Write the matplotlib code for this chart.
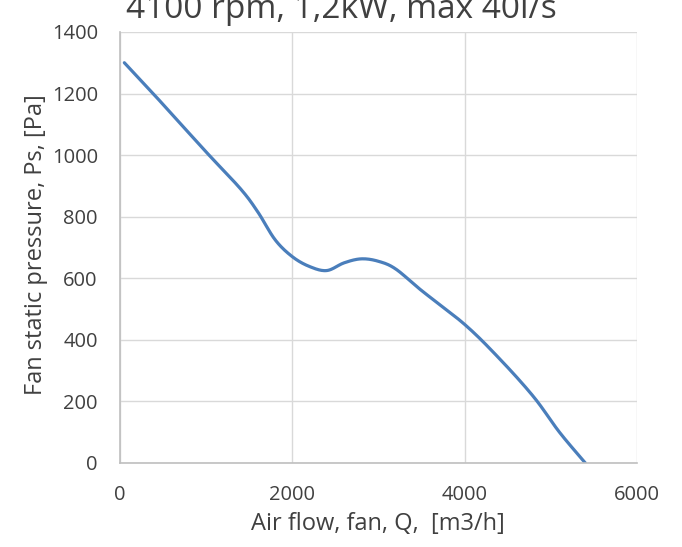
import matplotlib
matplotlib.use("Agg")
import matplotlib.pyplot as plt
import numpy as np

flow = [50, 400, 1000, 1400, 1600, 1800, 2000, 2200, 2400, 2600, 2800, 3000, 3200, 3500, 4000, 4400, 4800, 5100, 5400]
pressure = [1300, 1195, 1010, 890, 815, 725, 670, 638, 625, 650, 663, 655, 630, 560, 450, 340, 215, 100, 0]

x_ticks = [0, 2000, 4000, 6000]
y_ticks = [0, 200, 400, 600, 800, 1000, 1200, 1400]
title = "4100 rpm, 1,2kW, max 40l/s"
xlabel = "Air flow, fan, Q,  [m3/h]"
ylabel = "Fan static pressure, Ps, [Pa]"

plt.rcParams['font.family'] = ['Open Sans', 'DejaVu Sans']

fig = plt.figure(figsize=(6.82, 5.47), dpi=100)
ax = fig.add_axes([0.176, 0.1536, 0.758, 0.788])

# Smooth curve via Catmull-Rom through read points
def catmull(xs, ys, n=20):
    xs = np.asarray(xs, float); ys = np.asarray(ys, float)
    P = np.column_stack([xs, ys])
    P = np.vstack([2*P[0]-P[1], P, 2*P[-1]-P[-2]])
    out = []
    for i in range(1, len(P)-2):
        p0, p1, p2, p3 = P[i-1], P[i], P[i+1], P[i+2]
        t = np.linspace(0, 1, n, endpoint=False)[:, None]
        pts = 0.5*((2*p1) + (-p0+p2)*t + (2*p0-5*p1+4*p2-p3)*t**2 + (-p0+3*p1-3*p2+p3)*t**3)
        out.append(pts)
    out.append(P[-2][None, :])
    out = np.vstack(out)
    return out[:, 0], out[:, 1]

sx, sy = catmull(flow, pressure)
ax.plot(sx, sy, color='#4a7ebb', linewidth=2.3, solid_capstyle='round')

ax.set_xlim(0, 6000)
ax.set_ylim(0, 1400)
ax.set_xticks(x_ticks)
ax.set_yticks(y_ticks)
ax.grid(True, color='#d9d9d9', linewidth=1.0)
ax.set_axisbelow(True)
for s in ['top', 'right']:
    ax.spines[s].set_visible(False)
for s in ['left', 'bottom']:
    ax.spines[s].set_color('#bfbfbf')
    ax.spines[s].set_linewidth(1.2)
ax.tick_params(length=0, labelsize=14.5, colors='#404040')
ax.tick_params(axis='y', pad=16)
ax.tick_params(axis='x', pad=16)

fig.text(0.5, 1 - 18/547, title, ha='center', va='baseline', fontsize=24, color='#404040')
fig.text(378/682, 1 - 524/547, xlabel, ha='center', va='center', fontsize=17, color='#404040')
fig.text(36/682, 1 - 245/547, ylabel, ha='center', va='center', rotation=90, fontsize=17, color='#404040')

fig.savefig('out.png', dpi=100)
